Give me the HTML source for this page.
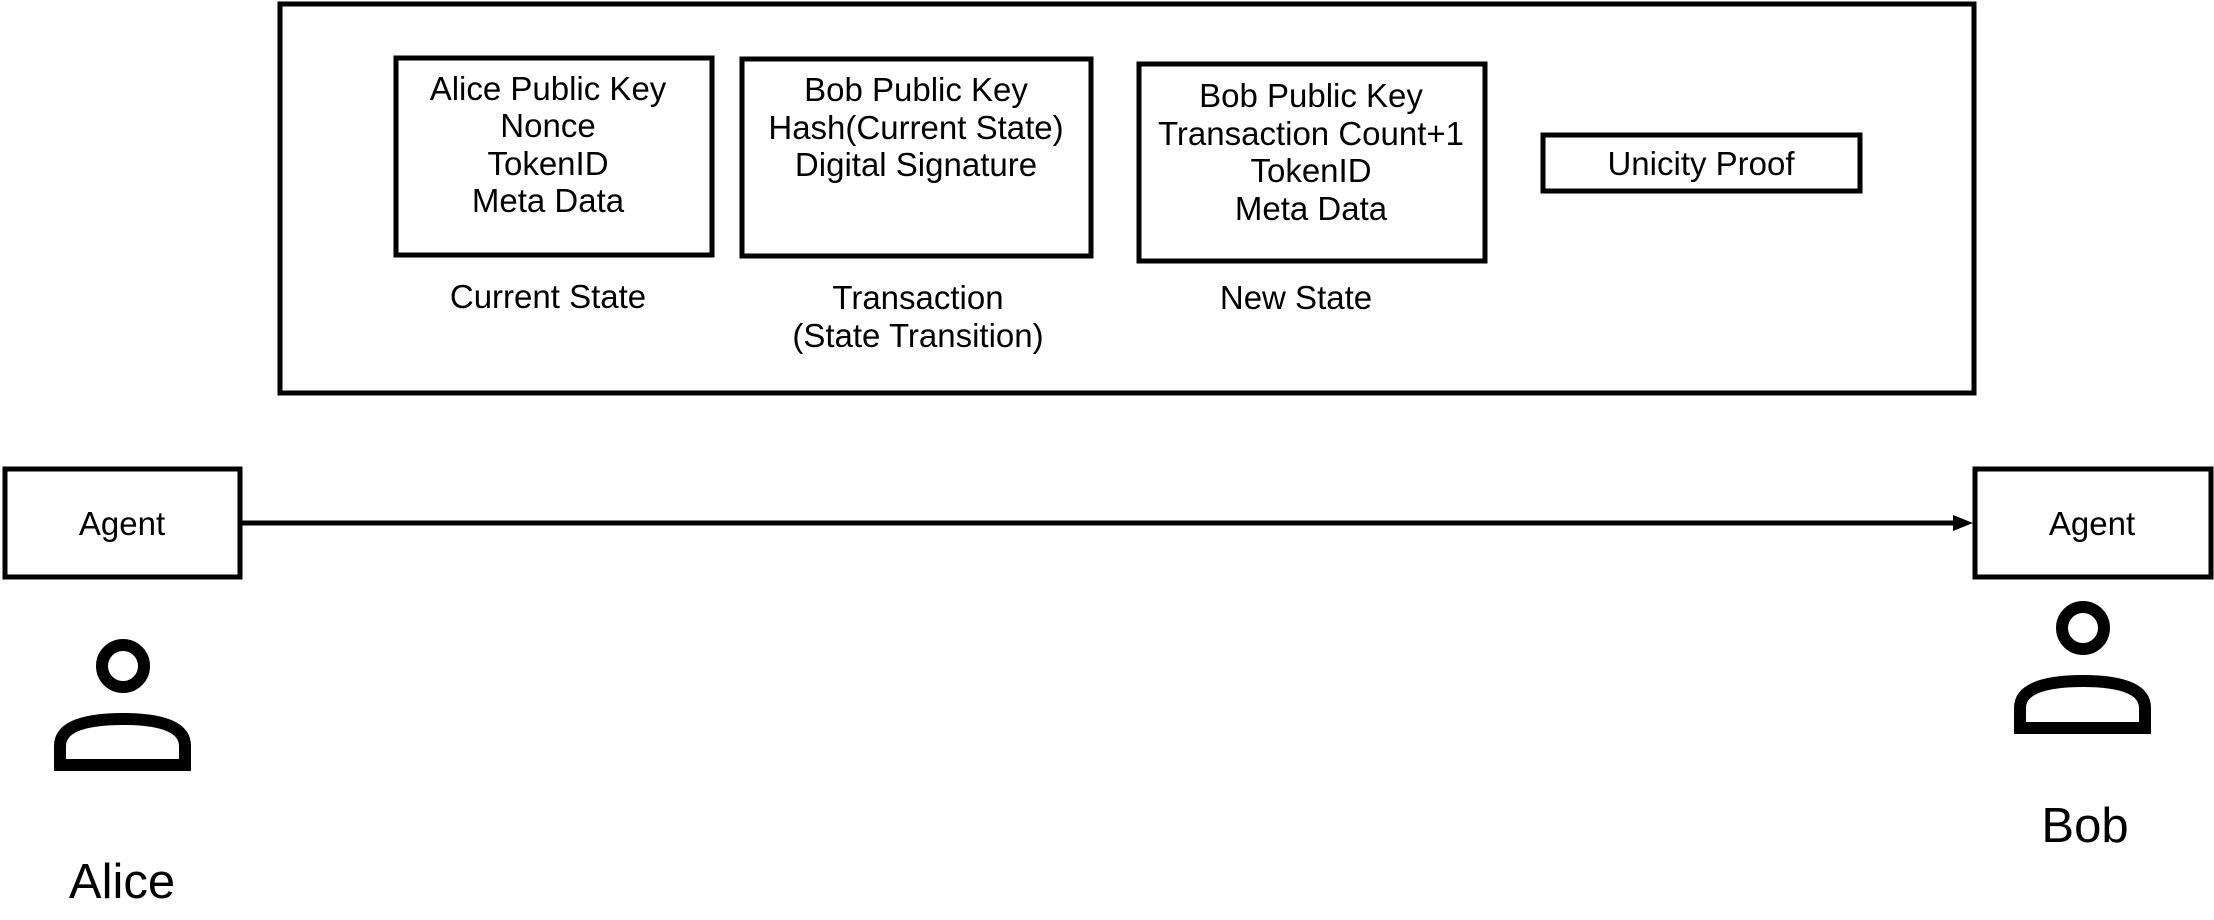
<!DOCTYPE html>
<html><head><style>
html,body{margin:0;padding:0;background:#fff;}
body{width:2214px;height:920px;overflow:hidden;position:relative;}
svg{position:absolute;left:0;top:0;}
text{font-family:"Liberation Sans",Arial,sans-serif;fill:#000;}
</style></head><body>
<svg width="2214" height="920" viewBox="0 0 2214 920" xmlns="http://www.w3.org/2000/svg">
<g fill="none" stroke="#000" stroke-width="5">
<rect x="280" y="4" width="1694" height="389"/>
<rect x="396" y="58" width="316" height="197"/>
<rect x="742" y="59" width="349" height="197"/>
<rect x="1139" y="64" width="346" height="197"/>
<rect x="1543" y="135" width="317" height="56"/>
<rect x="5" y="469" width="235" height="108"/>
<rect x="1975" y="469" width="236" height="108"/>
</g>
<g font-size="33" text-anchor="middle">
<text x="548" y="100">Alice Public Key</text>
<text x="548" y="137">Nonce</text>
<text x="548" y="175">TokenID</text>
<text x="548" y="212">Meta Data</text>
<text x="916" y="101">Bob Public Key</text>
<text x="916" y="139">Hash(Current State)</text>
<text x="916" y="176">Digital Signature</text>
<text x="1311" y="107">Bob Public Key</text>
<text x="1311" y="145">Transaction Count+1</text>
<text x="1311" y="182">TokenID</text>
<text x="1311" y="220">Meta Data</text>
<text x="1701" y="175">Unicity Proof</text>
<text x="548" y="308">Current State</text>
<text x="918" y="309">Transaction</text>
<text x="918" y="347">(State Transition)</text>
<text x="1296" y="309">New State</text>
<text x="122" y="535">Agent</text>
<text x="2092" y="535">Agent</text>
</g>
<g font-size="49" text-anchor="middle">
<text x="122" y="898">Alice</text>
<text x="2085" y="842">Bob</text>
</g>
<line x1="240" y1="523" x2="1956" y2="523" stroke="#000" stroke-width="5"/>
<polygon points="1953,515 1973,523 1953,531" fill="#000"/>
<g fill="none" stroke="#000" stroke-width="12">
<circle cx="123" cy="666" r="21"/>
<path d="M60,765 L60,746 Q60,719 123,719 Q185,719 185,746 L185,765 Z"/>
<circle cx="2083" cy="628" r="21"/>
<path d="M2020,728 L2020,708 Q2020,681 2083,681 Q2145,681 2145,708 L2145,728 Z"/>
</g>
</svg>
</body></html>
